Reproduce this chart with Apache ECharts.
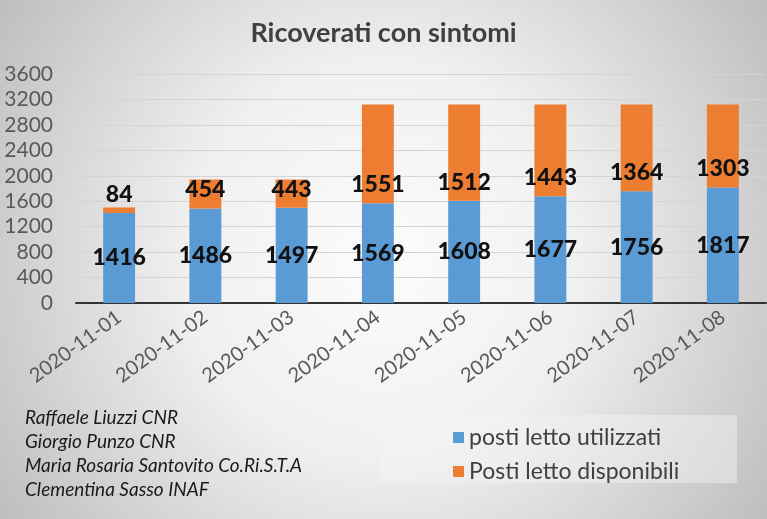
<!DOCTYPE html>
<html>
<head>
<meta charset="utf-8">
<script src="https://cdn.jsdelivr.net/npm/echarts@6/dist/echarts.min.js"></script>
<style>html,body{margin:0;padding:0;}#c{width:767px;height:519px;}</style>
</head>
<body>
<div id="c"></div>
<script>
const categories = ['2020-11-01','2020-11-02','2020-11-03','2020-11-04','2020-11-05','2020-11-06','2020-11-07','2020-11-08'];
const postiUtilizzati = [1416,1486,1497,1569,1608,1677,1756,1817];
const postiDisponibili = [84,454,443,1551,1512,1443,1364,1303];
const seriesNames = ['posti letto utilizzati','Posti letto disponibili'];
const titleText = 'Ricoverati con sintomi';
const authors = ['Raffaele Liuzzi CNR','Giorgio Punzo CNR','Maria Rosaria Santovito Co.Ri.S.T.A','Clementina Sasso INAF'];
const yTicks = {min:0, max:3600, interval:400};

const chart = echarts.init(document.getElementById('c'));
const F = 'Lato, "Open Sans", sans-serif';
chart.setOption({
  animation:false,
  textStyle:{fontFamily:F},
  graphic:[
    {type:'rect', z:-10, silent:true, shape:{x:0,y:0,width:767,height:519},
     style:{fill:{type:'radial',x:0.5,y:0.5,r:0.95,colorStops:[
       {offset:0,color:'#fcfcfc'},{offset:0.4,color:'#f0f0f0'},{offset:1,color:'#b8b8b8'}]}}},
    {type:'rect', z:-5, silent:true, shape:{x:380,y:415,width:357,height:68},
     style:{fill:'rgba(245,245,245,0.45)'}},
    {type:'text', left:25, top:406, silent:true,
     style:{text:authors.join('\n'), font:'italic 19px Lato, sans-serif', lineHeight:24, fill:'#1a1a1a'}}
  ],
  title:{text:titleText,left:'center',top:15,
    textStyle:{fontFamily:F,fontSize:27,fontWeight:'bold',color:'#404040'}},
  legend:{orient:'vertical',left:448,top:420,itemWidth:11,itemHeight:11,itemGap:9,
    icon:'rect',data:seriesNames,
    textStyle:{fontFamily:F,fontSize:23,color:'#404040',lineHeight:25,padding:[0,0,0,0]}},
  grid:{left:76,right:1,top:74,bottom:216,containLabel:false},
  xAxis:{type:'category',data:categories,
    axisLine:{lineStyle:{color:'#333',width:2}},
    axisTick:{show:false},
    axisLabel:{rotate:36,margin:12,fontSize:20,color:'#595959',fontFamily:F}},
  yAxis:{type:'value',min:yTicks.min,max:yTicks.max,interval:yTicks.interval,
    axisLine:{show:false},axisTick:{show:false},
    splitLine:{lineStyle:{color:'#d4d4d4',width:1}},
    axisLabel:{margin:23,fontSize:21,color:'#595959',fontFamily:F,formatter:function(v){return String(v);}}},
  series:[
    {name:seriesNames[0],type:'bar',stack:'t',data:postiUtilizzati,barWidth:'37%',
     itemStyle:{color:'#5b9bd5'},
     label:{show:true,position:'inside',fontSize:23,fontWeight:900,color:'#111',fontFamily:F}},
    {name:seriesNames[1],type:'bar',stack:'t',data:postiDisponibili,barWidth:'37%',
     itemStyle:{color:'#ed7d31'},
     label:{show:true,position:'insideBottom',distance:7,fontSize:23,fontWeight:900,color:'#111',fontFamily:F}}
  ]
});
</script>
</body>
</html>
